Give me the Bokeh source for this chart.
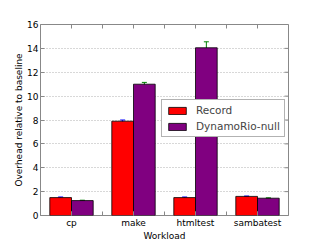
import numpy as np
from bokeh.plotting import figure
from bokeh.models import (ColumnDataSource, FixedTicker, Range1d,
                          Whisker, Legend, LegendItem)
from bokeh.embed import file_html
from bokeh.resources import INLINE

categories = ["cp", "make", "htmltest", "sambatest"]
record = [1.5, 7.9, 1.5, 1.6]
record_err = [0.05, 0.1, 0.05, 0.03]
dynamo = [1.25, 11.0, 14.05, 1.45]
dynamo_err = [0.03, 0.15, 0.5, 0.03]
y_ticks = [0, 2, 4, 6, 8, 10, 12, 14, 16]

FONT = "DejaVu Sans"
bw = 0.35
idx = np.arange(len(categories))
XMIN, XMAX, YMIN, YMAX = -0.5, 3.5, 0, 16
x_all_ticks = list(np.arange(XMIN, XMAX + 0.01, 0.5))
FW, FH = 248, 191

p = figure(frame_width=FW, frame_height=FH, output_backend="svg",
           toolbar_location=None,
           x_range=Range1d(XMIN, XMAX), y_range=Range1d(YMIN, YMAX),
           min_border_left=40, min_border_right=14, min_border_top=24,
           min_border_bottom=0)
p.background_fill_color = "white"
p.border_fill_color = "white"
p.outline_line_color = "#888888"

src_r = ColumnDataSource(dict(x=idx - bw / 2, top=record,
                              lo=np.array(record) - np.array(record_err),
                              hi=np.array(record) + np.array(record_err)))
src_d = ColumnDataSource(dict(x=idx + bw / 2, top=dynamo,
                              lo=np.array(dynamo) - np.array(dynamo_err),
                              hi=np.array(dynamo) + np.array(dynamo_err)))

r1 = p.vbar(x="x", top="top", width=bw, source=src_r, fill_color="#ff0000",
            line_color="black", line_width=0.8)
r2 = p.vbar(x="x", top="top", width=bw, source=src_d, fill_color="#800080",
            line_color="black", line_width=0.8)

for src, col in ((src_r, "blue"), (src_d, "green")):
    w = Whisker(base="x", lower="lo", upper="hi", source=src,
                line_color=col, line_width=1)
    w.upper_head.line_color = col
    w.lower_head.line_color = col
    w.upper_head.size = 5
    w.lower_head.size = 5
    p.add_layout(w)

# inward ticks on the top and right edges (matplotlib classic style)
tx = 4 / FW * (XMAX - XMIN)
ty = 4 / FH * (YMAX - YMIN)
p.segment(x0=x_all_ticks, x1=x_all_ticks, y0=[YMAX] * len(x_all_ticks),
          y1=[YMAX - ty] * len(x_all_ticks), line_color="#888888", line_width=1)
p.segment(x0=[XMAX] * len(y_ticks), x1=[XMAX - tx] * len(y_ticks),
          y0=y_ticks, y1=y_ticks, line_color="#888888", line_width=1)

p.xgrid.visible = False
p.ygrid.ticker = FixedTicker(ticks=y_ticks)
p.ygrid.grid_line_color = "#b0b0b0"
p.ygrid.grid_line_dash = "1 2"
p.ygrid.grid_line_width = 1

p.xaxis.ticker = FixedTicker(ticks=list(idx), minor_ticks=x_all_ticks)
p.xaxis.major_label_overrides = {int(i): c for i, c in zip(idx, categories)}
p.yaxis.ticker = FixedTicker(ticks=y_ticks)

for ax in (p.xaxis[0], p.yaxis[0]):
    ax.axis_line_color = None
    ax.major_tick_in = 4
    ax.major_tick_out = 0
    ax.major_tick_line_color = "#888888"
    ax.minor_tick_in = 4
    ax.minor_tick_out = 0
    ax.minor_tick_line_color = "#888888"
    ax.major_label_text_font = FONT
    ax.major_label_text_font_size = "9px"
    ax.major_label_text_color = "black"
    ax.axis_label_text_font = FONT
    ax.axis_label_text_font_size = "9px"
    ax.axis_label_text_font_style = "normal"
    ax.axis_label_text_color = "black"
p.yaxis.minor_tick_line_color = None

p.xaxis.major_label_standoff = 2
p.xaxis.axis_label_standoff = 0
p.yaxis.major_label_standoff = 2
p.yaxis.axis_label_standoff = 0

p.xaxis.axis_label = "Workload"
p.yaxis.axis_label = "Overhead relative to baseline"

legend = Legend(items=[LegendItem(label="Record", renderers=[r1]),
                       LegendItem(label="DynamoRio-null", renderers=[r2])],
                location=(121, 78))
legend.label_text_font = FONT
legend.label_text_font_size = "10.5px"
legend.border_line_color = "#666666"
legend.border_line_width = 1
legend.glyph_width = 22
legend.glyph_height = 9
legend.label_standoff = 8
legend.padding = 4
legend.spacing = 4
legend.margin = 0
legend.label_height = 12
legend.background_fill_alpha = 1
p.add_layout(legend, "center")

open("out.html", "w").write(file_html(p, INLINE))
